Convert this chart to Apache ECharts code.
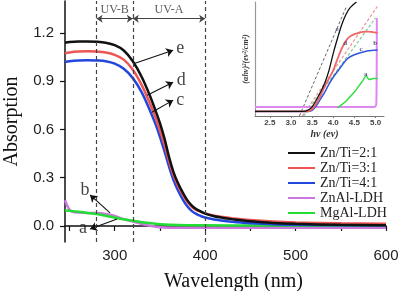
<!DOCTYPE html>
<html><head><meta charset="utf-8">
<script src="https://cdn.jsdelivr.net/npm/echarts@6/dist/echarts.min.js"></script>
<style>html,body{margin:0;padding:0;background:#fff}#c{width:400px;height:291px}</style>
</head><body><div id="c"></div>
<script>
// ---- main chart data ----
const wavelengths = [245,250,260,270,280,290,300,310,320,330,340,345,350,355,360,365,370,375,380,385,390,395,400,410,420,430,440,450,475,500,550,600];
const znTi21 = [1.140,1.145,1.148,1.148,1.146,1.140,1.125,1.092,1.025,0.925,0.795,0.720,0.640,0.545,0.430,0.335,0.265,0.210,0.162,0.128,0.105,0.090,0.077,0.060,0.050,0.042,0.035,0.029,0.019,0.013,0.007,0.005];
const znTi31 = [1.075,1.080,1.085,1.087,1.085,1.080,1.065,1.035,0.972,0.875,0.748,0.675,0.595,0.505,0.405,0.315,0.250,0.196,0.152,0.121,0.100,0.088,0.078,0.064,0.055,0.048,0.042,0.037,0.028,0.022,0.016,0.013];
const znTi41 = [1.020,1.025,1.030,1.032,1.030,1.025,1.010,0.978,0.920,0.830,0.705,0.635,0.555,0.465,0.370,0.285,0.220,0.167,0.124,0.094,0.075,0.062,0.052,0.040,0.032,0.026,0.021,0.017,0.011,0.008,0.005,0.004];
const ldhWavelengths = [245,248,252,260,270,280,290,300,310,320,330,340,350,370,400,450,500,550,600];
const znAlLDH = [0.160,0.120,0.090,0.083,0.080,0.080,0.075,0.062,0.042,0.028,0.012,0.000,-0.008,-0.012,-0.012,-0.012,-0.012,-0.012,-0.012];
const mgAlLDH = [0.097,0.095,0.093,0.088,0.081,0.074,0.064,0.052,0.041,0.032,0.023,0.016,0.011,0.006,0.004,0.003,0.003,0.003,0.003];
const seriesNames = ['Zn/Ti=2:1','Zn/Ti=3:1','Zn/Ti=4:1','ZnAl-LDH','MgAl-LDH'];
const xTickValues = [250,300,350,400,450,500,550,600];
const xLabelValues = [300,400,500,600];
const yTickValues = [0,0.3,0.6,0.9,1.2];
// annotations (data coordinates)
const guideLines = [280,320,400];
const bandNames = ['UV-B','UV-A'];
const bandFrom = [280,320];
const bandTo = [320,400];
const bandArrowY = 1.29;
const bandLabelY = 1.345;
const pointerLetters = ['e','d','c','b','a'];
const pointerFrom = [[322.5,1.012],[335.8,0.814],[341.3,0.708],[294.8,0.081],[302.6,0.043]];
const pointerTo = [[364.6,1.093],[364.6,0.894],[364.6,0.783],[272.7,0.193],[272.7,-0.019]];
const pointerLabelAt = [[372.5,1.106],[373.5,0.907],[372.5,0.783],[267.1,0.224],[264.9,-0.012]];

// ---- inset data (photon energy, eV) ----
const insetE21 = [2.15,3.3,3.4,3.5,3.6,3.7,3.8,3.9,4.0,4.1,4.2,4.3,4.4,4.55];
const insetY21 = [4,4,5,8,14,21,29,40,55,68,80,89,95,100];
const insetE31 = [2.15,3.4,3.5,3.6,3.7,3.8,3.9,4.0,4.1,4.2,4.3,4.4,4.6,4.8,5.05];
const insetY31 = [4,4,6,11,18,26,33,40,50,59,66,70,73,74,73];
const insetE41 = [2.15,3.4,3.5,3.6,3.7,3.8,3.9,4.0,4.1,4.2,4.3,4.4,4.6,4.8,5.05];
const insetY41 = [4,4,5,9,15,21,28,34,39,44,49,52,55,57,58];
const insetEZnAl = [2.15,4.97,5.02,5.03];
const insetYZnAl = [8,8,12,86];
const insetEMgAl = [4.1,4.2,4.3,4.4,4.5,4.6,4.7,4.78,4.85,4.95,5.05];
const insetYMgAl = [7,10,13,17,21,26,31,35,32,33,33];
const tangentE21 = [3.2,4.3]; const tangentY21 = [0,95];
const tangentE31 = [3.27,5.04]; const tangentY31 = [0,96];
const tangentEMg = [3.3,5.0]; const tangentYMg = [0,86];
const insetTicks = [2.5,3.0,3.5,4.0,4.5,5.0];
const insetLetters = ['e','d','c','b','a'];
const insetLetterAt = [[4.09,76],[4.28,64],[4.66,59],[4.99,64],[4.77,37]];

const colors = ['#111111','#ee5555','#2346dd','#cc77dd','#22dd33'];
const zip = (xs, ys) => xs.map((x, i) => [x, ys[i]]);

const chart = echarts.init(document.getElementById('c'), null, {renderer:'canvas'});
const serif = 'Liberation Serif';
const sans = 'Liberation Sans';

const mainLine = (name, xs, ys, color, extra) => Object.assign({
  name, type:'line', xAxisIndex:0, yAxisIndex:0, data: zip(xs, ys), symbol:'none',
  smooth:0.35, lineStyle:{color, width:2.5}, itemStyle:{color}, z:3
}, extra || {});

const insetLine = (xs, ys, color, width, dashed) => ({
  type:'line', xAxisIndex:1, yAxisIndex:1, data: zip(xs, ys), symbol:'none', smooth: dashed ? false : 0.3,
  lineStyle:{color, width, type: dashed ? [3,2] : 'solid'}, silent:true, z:4
});

const option = {
  animation:false,
  backgroundColor:'#fff',
  grid:[
    {left:65, top:1, width:321, height:241, containLabel:false, outerBoundsMode:'none'},
    {left:255, top:2, width:129, height:114, containLabel:false, outerBoundsMode:'none'}
  ],
  xAxis:[
    {type:'value', gridIndex:0, min:245, max:600,
     name:'Wavelength (nm)', nameLocation:'middle', nameGap:30,
     nameTextStyle:{fontFamily:serif, fontSize:20, color:'#111', padding:[0,0,0,16]},
     axisLine:{lineStyle:{color:'#111', width:1.5}},
     axisTick:{show:true, inside:false, length:5, customValues:xTickValues, lineStyle:{color:'#111', width:1.2}},
     axisLabel:{customValues:xLabelValues, margin:6, fontFamily:sans, fontSize:15, color:'#222'},
     splitLine:{show:false}},
    {type:'value', gridIndex:1, min:2.15, max:5.2,
     name:'hν (ev)', nameLocation:'middle', nameGap:13,
     nameTextStyle:{fontFamily:serif, fontSize:10, fontStyle:'italic', fontWeight:'bold', color:'#333', padding:[0,0,0,10]},
     axisLine:{lineStyle:{color:'#777', width:1}},
     axisTick:{show:true, length:2, customValues:insetTicks, lineStyle:{color:'#777'}},
     axisLabel:{customValues:insetTicks, margin:3, fontFamily:sans, fontSize:8, fontWeight:'bold', color:'#444', formatter:v=>v.toFixed(1)},
     splitLine:{show:false}}
  ],
  yAxis:[
    {type:'value', gridIndex:0, min:-0.1, max:1.4,
     name:'Absorption', nameLocation:'middle', nameGap:40,
     nameTextStyle:{fontFamily:serif, fontSize:20, color:'#111'},
     axisLine:{show:true, lineStyle:{color:'#111', width:1.5}},
     axisTick:{show:true, length:5, customValues:yTickValues, lineStyle:{color:'#111', width:1.2}},
     axisLabel:{customValues:yTickValues, margin:11, fontFamily:sans, fontSize:15, color:'#222', formatter:v=>v.toFixed(1)},
     splitLine:{show:false}},
    {type:'value', gridIndex:1, min:0, max:100,
     name:'(αhν)²(ev²/cm²)', nameLocation:'middle', nameGap:5,
     nameTextStyle:{fontFamily:serif, fontSize:8, fontStyle:'italic', fontWeight:'bold', color:'#333'},
     axisLine:{show:true, lineStyle:{color:'#999', width:1.2}},
     axisTick:{show:false}, axisLabel:{show:false}, splitLine:{show:false}}
  ],
  legend:{
    data: seriesNames, orient:'vertical', left:283, top:141, itemWidth:27, itemHeight:14, itemGap:1,
    textStyle:{fontFamily:serif, fontSize:14, color:'#222'}, icon:'path://M0,6 L27,6 L27,8 L0,8 Z'
  },
  series:[
    mainLine(seriesNames[3], ldhWavelengths, znAlLDH, colors[3]),
    mainLine(seriesNames[4], ldhWavelengths, mgAlLDH, colors[4], {
      markLine:{silent:true, symbol:'none', label:{show:false},
        lineStyle:{color:'#444', width:1.2, type:[4,3]},
        data: guideLines.map(v => ({xAxis:v}))}
    }),
    mainLine(seriesNames[2], wavelengths, znTi41, colors[2], {
      markLine:{silent:true, symbol:['arrow','arrow'], symbolSize:6, label:{show:false},
        lineStyle:{color:'#444', width:1, type:'solid'},
        data: bandNames.map((n,i) => [{coord:[bandFrom[i], bandArrowY]},{coord:[bandTo[i], bandArrowY]}])}
    }),
    mainLine(seriesNames[1], wavelengths, znTi31, colors[1]),
    mainLine(seriesNames[0], wavelengths, znTi21, colors[0], {
      markLine:{silent:true, symbol:['none','arrow'], symbolSize:7, label:{show:false},
        lineStyle:{color:'#111', width:1.1, type:'solid'},
        data: pointerLetters.map((n,i) => [{coord:pointerFrom[i]},{coord:pointerTo[i]}])}
    }),
    {type:'scatter', xAxisIndex:0, yAxisIndex:0, symbolSize:0, silent:true, z:6,
     data: pointerLetters.map((n,i) => ({name:n, value:pointerLabelAt[i]})),
     label:{show:true, position:'inside', formatter:p=>p.name, fontFamily:serif, fontSize:18, color:'#111'}},
    {type:'scatter', xAxisIndex:0, yAxisIndex:0, symbolSize:0, silent:true, z:6,
     data: bandNames.map((n,i) => ({name:n, value:[(bandFrom[i]+bandTo[i])/2, bandLabelY]})),
     label:{show:true, position:'inside', formatter:p=>p.name, fontFamily:serif, fontSize:12, color:'#333'}},
    // inset
    insetLine(tangentE21, tangentY21, '#666', 1, true),
    insetLine(tangentE31, tangentY31, '#f09090', 1.2, true),
    insetLine(tangentEMg, tangentYMg, '#77cc99', 1.2, true),
    insetLine(insetEZnAl, insetYZnAl, '#dd88ee', 2),
    insetLine(insetEMgAl, insetYMgAl, '#33dd44', 1.5),
    insetLine(insetE41, insetY41, '#3355dd', 1.5),
    insetLine(insetE31, insetY31, '#ee6666', 1.8),
    insetLine(insetE21, insetY21, '#111', 1.3),
    {type:'scatter', xAxisIndex:1, yAxisIndex:1, symbolSize:0, silent:true, z:7,
     data: insetLetters.map((n,i) => ({name:n, value:insetLetterAt[i]})),
     label:{show:true, position:'inside', formatter:p=>p.name, fontFamily:serif, fontSize:7, fontWeight:'bold', color:'#336'}}
  ]
};
chart.setOption(option);
</script>
</body></html>
